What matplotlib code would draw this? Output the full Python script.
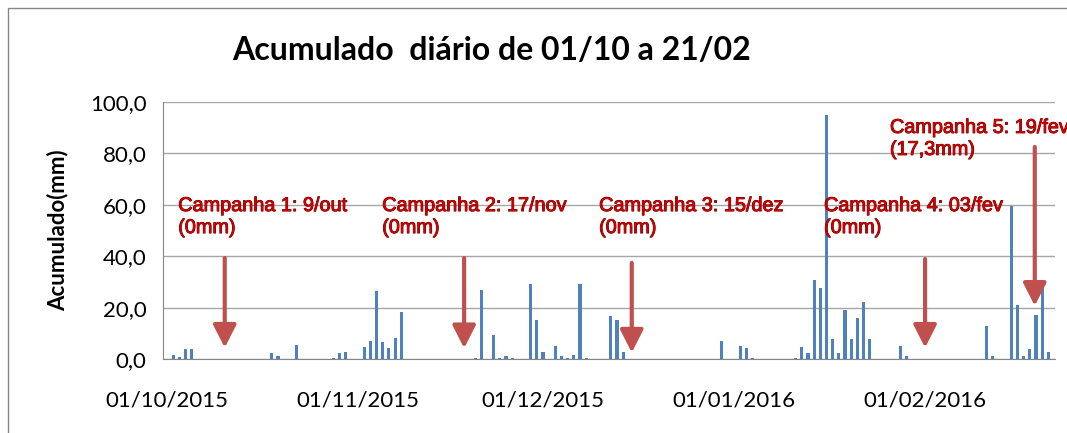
import matplotlib
matplotlib.use('Agg')
import matplotlib.pyplot as plt
import matplotlib.dates as mdates
import matplotlib.patheffects as pe
import pandas as pd

# daily rainfall (only the days with rain; all other days are 0)
rain_dates = ['2015-10-02', '2015-10-03', '2015-10-04', '2015-10-05', '2015-10-18',
              '2015-10-19', '2015-10-22', '2015-10-28', '2015-10-29', '2015-10-30',
              '2015-11-02', '2015-11-03', '2015-11-04', '2015-11-05', '2015-11-06',
              '2015-11-07', '2015-11-08', '2015-11-20', '2015-11-21', '2015-11-23',
              '2015-11-24', '2015-11-25', '2015-11-26', '2015-11-29', '2015-11-30',
              '2015-12-01', '2015-12-03', '2015-12-04', '2015-12-05', '2015-12-06',
              '2015-12-07', '2015-12-08', '2015-12-12', '2015-12-13', '2015-12-14',
              '2015-12-30', '2016-01-02', '2016-01-03', '2016-01-04', '2016-01-11',
              '2016-01-12', '2016-01-13', '2016-01-14', '2016-01-15', '2016-01-16',
              '2016-01-17', '2016-01-18', '2016-01-19', '2016-01-20', '2016-01-21',
              '2016-01-22', '2016-01-23', '2016-01-28', '2016-01-29', '2016-02-11',
              '2016-02-12', '2016-02-15', '2016-02-16', '2016-02-17', '2016-02-18',
              '2016-02-19', '2016-02-20', '2016-02-21']
rain_mm = [1.6, 0.8, 4.0, 4.0, 2.2,
           1.2, 5.4, 0.4, 2.2, 2.7,
           4.5, 6.9, 26.5, 6.5, 4.1,
           8.3, 18.2, 0.5, 27.0, 9.2,
           0.5, 1.0, 0.5, 29.2, 15.2,
           2.8, 5.0, 1.0, 0.5, 1.4,
           29.2, 0.5, 16.8, 15.3, 2.9,
           7.0, 5.1, 4.1, 0.5, 0.5,
           4.5, 2.3, 30.6, 27.8, 95.0,
           7.8, 2.3, 18.9, 7.8, 15.8,
           22.3, 7.8, 4.9, 1.2, 12.8,
           1.2, 59.5, 20.9, 1.2, 4.0,
           17.3, 28.4, 2.8]

start_date = '2015-10-01'
end_date = '2016-02-21'
tick_dates = ['2015-10-01', '2015-11-01', '2015-12-01', '2016-01-01', '2016-02-01']

# field campaigns (text, arrow position in days from start, arrow top/tip in mm, label position)
camp_labels = ['Campanha 1: 9/out\n(0mm)', 'Campanha 2: 17/nov\n(0mm)',
               'Campanha 3: 15/dez\n(0mm)', 'Campanha 4: 03/fev\n(0mm)',
               'Campanha 5: 19/fev\n(17,3mm)']
arrow_day = [9.35, 48.2, 75.4, 123.0, 140.8]
arrow_top = [39.3, 39.3, 37.4, 38.9, 82.5]
arrow_tip = [4.4, 4.2, 2.5, 4.4, 20.7]
label_day = [1.8, 34.9, 70.1, 106.6, 117.3]
label_y = [63.4, 63.4, 63.4, 63.4, 93.8]

BLUE = '#4F81BD'
RED = '#C0504D'
GRID = '#A6A6A6'

plt.rcParams['font.family'] = ['Lato', 'DejaVu Sans']

fig = plt.figure(figsize=(10.67, 4.33), dpi=100)
ax = fig.add_axes([163/1067, 1 - 359/433, (1055 - 163)/1067, (359 - 102)/433])

x = pd.to_datetime(rain_dates)
ax.bar(x, rain_mm, width=0.5, color=BLUE, zorder=3)

t0 = pd.Timestamp(start_date)
t1 = pd.Timestamp(end_date)
ax.set_xlim(t0 - pd.Timedelta(hours=16), t1 + pd.Timedelta(hours=26))
ax.set_ylim(0, 100)
ax.set_yticks(range(0, 101, 20))
ax.set_yticklabels([f'{v:.1f}'.replace('.', ',') for v in range(0, 101, 20)])
ax.set_xticks(pd.to_datetime(tick_dates))
ax.xaxis.set_major_formatter(mdates.DateFormatter('%d/%m/%Y'))
ax.grid(axis='y', color=GRID, lw=1, zorder=0)
ax.tick_params(axis='both', length=0, labelsize=16, colors='black')
ax.tick_params(axis='y', pad=12)
ax.tick_params(axis='x', pad=23)
for s in ['top', 'right']:
    ax.spines[s].set_visible(False)
for s in ['left', 'bottom']:
    ax.spines[s].set_color('#868686')
ax.set_ylabel('Acumulado(mm)', fontsize=16, fontweight='bold', labelpad=15)

for lab, ad, at, ap, ld, ly in zip(camp_labels, arrow_day, arrow_top, arrow_tip, label_day, label_y):
    xa = t0 + pd.Timedelta(days=ad)
    ax.annotate('', xy=(xa, ap), xytext=(xa, at),
                arrowprops=dict(arrowstyle='-|>,head_length=0.55,head_width=0.28',
                                color=RED, lw=3, mutation_scale=25,
                                shrinkA=0, shrinkB=0), zorder=5)
    ax.text(t0 + pd.Timedelta(days=ld), ly, lab, fontsize=14.3, color='#D00000',
            family=['Liberation Sans', 'DejaVu Sans'], va='top', ha='left',
            linespacing=1.2, zorder=6,
            path_effects=[pe.withStroke(linewidth=0.7, foreground='#700000')])

fig.text(492/1067, 1 - 50/433, 'Acumulado  diário de 01/10 a 21/02', fontsize=23,
         fontweight='bold', ha='center', va='center')

# chart border
fig.patches.append(plt.Rectangle((8/1067, -0.05), 1.1, 1 - 8/433 + 0.05,
                                 transform=fig.transFigure, fill=False,
                                 edgecolor='#868686', lw=1))

fig.savefig('out.png', dpi=100)
